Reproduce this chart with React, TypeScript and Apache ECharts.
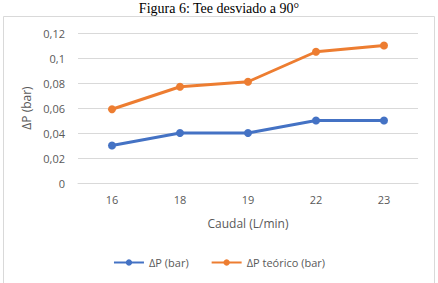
import React, { useEffect, useRef } from "react";
import * as echarts from "echarts";

const categories = ["16", "18", "19", "22", "23"];
const dpMeasured = [0.03, 0.04, 0.04, 0.05, 0.05];
const dpTheoretical = [0.059, 0.077, 0.081, 0.105, 0.11];
const titleText = "Figura 6: Tee desviado a 90°";

const FONT = "'Open Sans', 'Liberation Sans', sans-serif";

export default function App() {
  const ref = useRef<HTMLDivElement>(null);
  useEffect(() => {
    if (!ref.current) return;
    const chart = echarts.init(ref.current, undefined, { renderer: "svg" });
    chart.setOption({
      animation: false,
      backgroundColor: "#ffffff",
      graphic: [
        {
          type: "rect",
          shape: { x: 3.5, y: 16.5, width: 431, height: 280 },
          style: { fill: "none", stroke: "#d9d9d9", lineWidth: 1 },
          silent: true,
        },
        {
          type: "text",
          x: 219,
          y: 8,
          style: {
            text: titleText,
            fontFamily: "'Liberation Serif', serif",
            fontSize: 14,
            fill: "#000",
            align: "center",
            verticalAlign: "middle",
          },
        },
      ],
      grid: { left: 78, right: 20, top: 33, bottom: 100, containLabel: false },
      xAxis: {
        type: "category",
        data: categories,
        boundaryGap: true,
        axisLine: { show: true, lineStyle: { color: "#d9d9d9" } },
        axisTick: { show: false },
        axisLabel: { color: "#595959", fontFamily: FONT, fontSize: 11, margin: 11 },
        name: "Caudal (L/min)",
        nameLocation: "middle",
        nameGap: 34,
        nameTextStyle: { color: "#595959", fontFamily: FONT, fontSize: 12 },
      },
      yAxis: {
        type: "value",
        min: 0,
        max: 0.12,
        interval: 0.02,
        axisLine: { show: false },
        axisTick: { show: false },
        splitLine: { lineStyle: { color: "#d9d9d9" } },
        axisLabel: {
          color: "#595959",
          fontFamily: FONT,
          fontSize: 11,
          margin: 13,
          formatter: (v: number) => (v === 0 ? "0" : String(Math.round(v * 100) / 100).replace(".", ",")),
        },
        name: "ΔP (bar)",
        nameLocation: "middle",
        nameGap: 40,
        nameRotate: 90,
        nameTextStyle: { color: "#595959", fontFamily: FONT, fontSize: 12 },
      },
      legend: {
        bottom: 10,
        left: "center",
        itemWidth: 30,
        itemHeight: 8,
        itemGap: 22,
        textStyle: { color: "#595959", fontFamily: FONT, fontSize: 11 },
        data: ["ΔP (bar)", "ΔP teórico (bar)"],
      },
      series: [
        {
          name: "ΔP (bar)",
          type: "line",
          data: dpMeasured,
          symbol: "circle",
          symbolSize: 8,
          lineStyle: { color: "#4472C4", width: 3 },
          itemStyle: { color: "#4472C4" },
        },
        {
          name: "ΔP teórico (bar)",
          type: "line",
          data: dpTheoretical,
          symbol: "circle",
          symbolSize: 8,
          lineStyle: { color: "#ED7D31", width: 3 },
          itemStyle: { color: "#ED7D31" },
        },
      ],
    });
    return () => chart.dispose();
  }, []);
  return (
    <div
      ref={ref}
      style={{ position: "absolute", left: 0, top: 0, width: 438, height: 283 }}
    />
  );
}
